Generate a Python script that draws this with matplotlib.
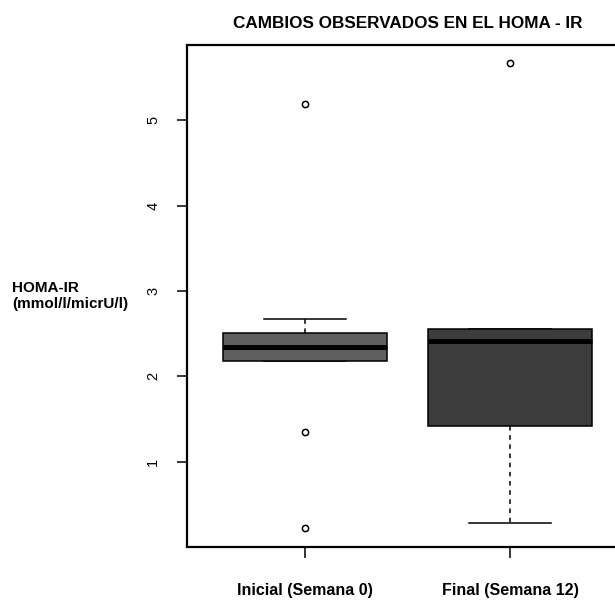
import matplotlib.pyplot as plt

# Estadísticos del HOMA-IR por momento del estudio
grupos = ['Inicial (Semana 0)', 'Final (Semana 12)']
q1 = [2.18, 1.42]
medianas = [2.34, 2.42]
q3 = [2.51, 2.56]
bigote_inf = [2.18, 0.285]
bigote_sup = [2.67, 2.56]
atipicos = [[5.19, 1.35, 0.22], [5.67]]
colores = ['#5f5f5f', '#3c3c3c']

plt.rcParams['font.family'] = ['Liberation Sans', 'DejaVu Sans']

stats = []
for i in range(len(grupos)):
    stats.append({'q1': q1[i], 'med': medianas[i], 'q3': q3[i],
                  'whislo': bigote_inf[i], 'whishi': bigote_sup[i],
                  'fliers': atipicos[i], 'label': grupos[i]})

fig = plt.figure(figsize=(6.15, 6), dpi=100)
ax = fig.add_axes([0.3034, 0.0885, 0.7189, 0.8373])

bp = ax.bxp(stats, positions=[1, 2], widths=0.8, patch_artist=True,
            boxprops=dict(linewidth=1.1, edgecolor='black', zorder=3),
            medianprops=dict(color='black', linewidth=3.6, solid_capstyle='butt', zorder=4),
            whiskerprops=dict(color='black', linewidth=1.1, linestyle=(0, (3, 3)), zorder=2),
            capprops=dict(color='black', linewidth=1.1, zorder=2),
            capwidths=0.4,
            flierprops=dict(marker='o', markersize=4.5, markerfacecolor='none',
                            markeredgecolor='black', markeredgewidth=1.1))
for caja, c in zip(bp['boxes'], colores):
    caja.set_facecolor(c)

ax.set_xlim(0.42, 2.58)
ax.set_ylim(0.002, 5.888)
ax.set_yticks([1, 2, 3, 4, 5])
ax.set_yticklabels(['1', '2', '3', '4', '5'], rotation=90, va='center', fontsize=10.5)
ax.set_xticks([1, 2])
ax.set_xticklabels(grupos, fontsize=11.5, fontweight='bold')
ax.tick_params(axis='y', length=7, width=1.1, pad=12)
ax.tick_params(axis='x', length=8, width=1.1, pad=18)
for lado in ax.spines.values():
    lado.set_linewidth(1.6)

ax.set_title('CAMBIOS OBSERVADOS EN EL HOMA - IR', fontsize=12.3, fontweight='bold', pad=12)
fig.text(12 / 615, 1 - 296 / 600, 'HOMA-IR\n(mmol/l/micrU/l)', fontsize=11,
         fontweight='bold', ha='left', va='center', linespacing=1.15)

fig.savefig('out.png', dpi=100)
